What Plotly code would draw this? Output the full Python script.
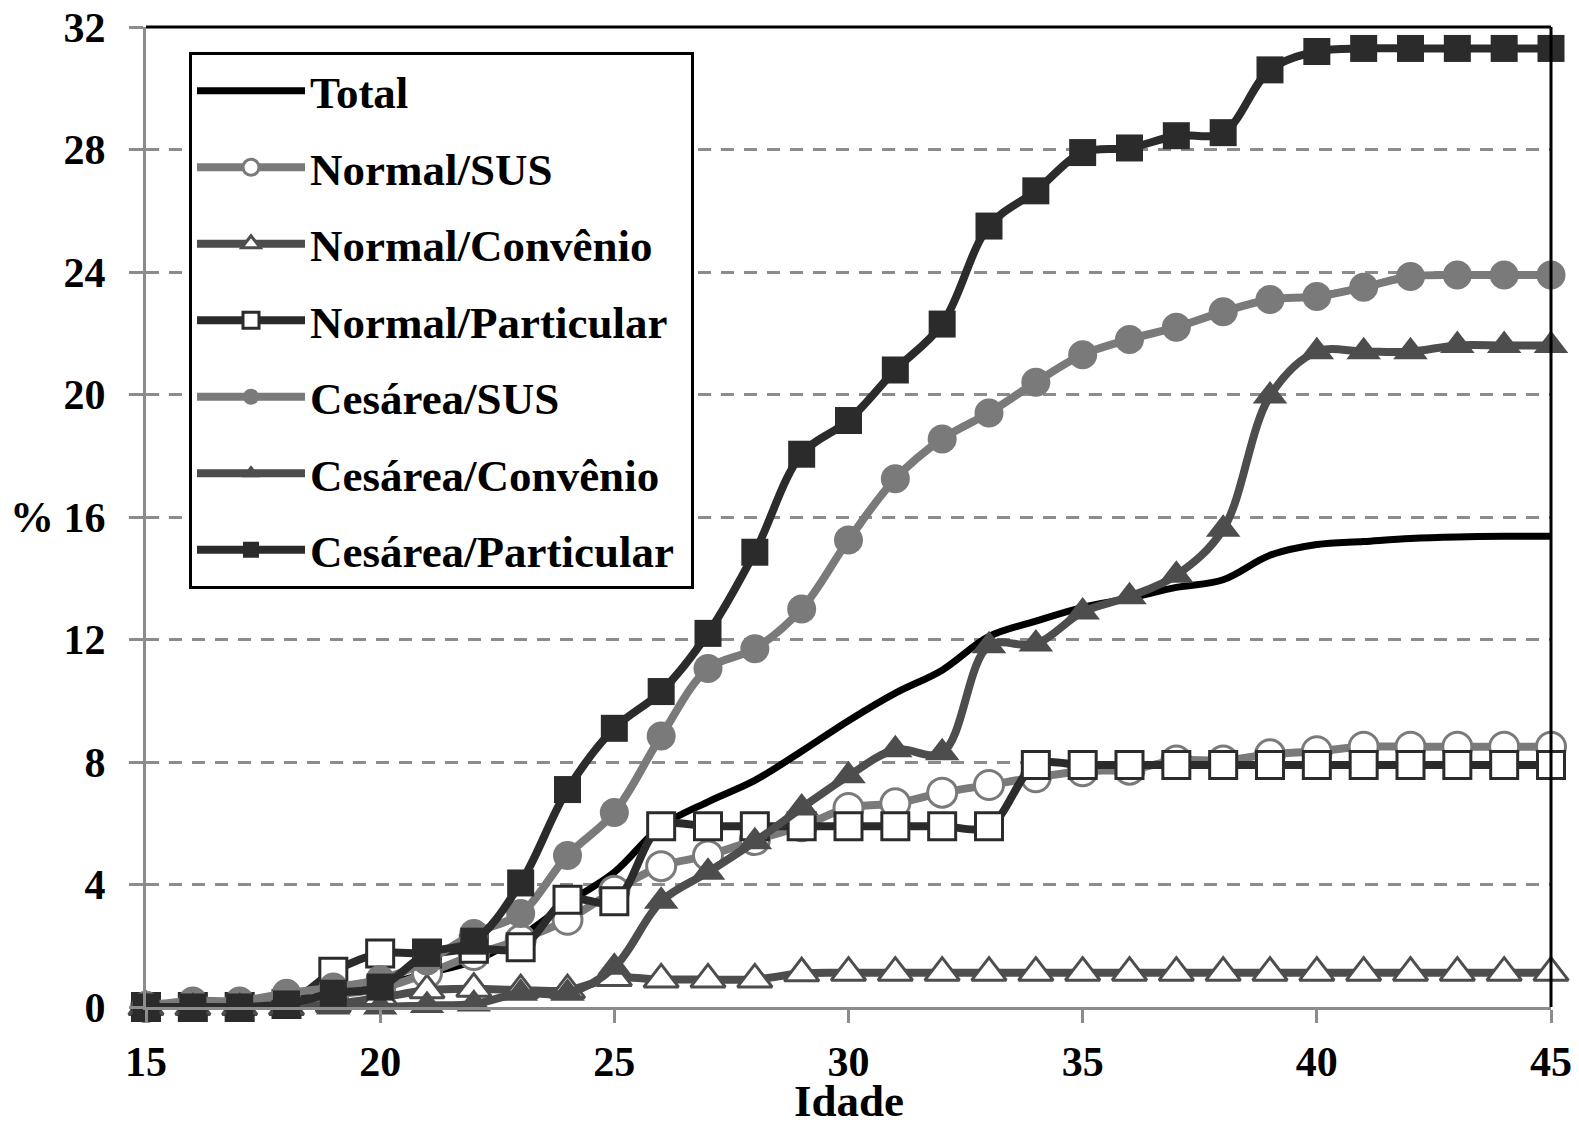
import plotly.graph_objects as go

ages = list(range(15, 46))

total = [0, 0, 0.05, 0.15, 0.4, 0.7, 1.1, 1.5, 2.3, 3.4,
         4.4, 5.9, 6.7, 7.4, 8.35, 9.35, 10.25, 11.0, 12.1, 12.6,
         13.05, 13.35, 13.7, 13.95, 14.75, 15.1, 15.2, 15.3, 15.35, 15.37, 15.37]
normal_sus = [0, 0.1, 0.1, 0.2, 0.4, 0.6, 1.1, 1.7, 2.2, 2.85,
              3.8, 4.6, 4.95, 5.45, 5.9, 6.5, 6.65, 7.0, 7.25, 7.5,
              7.7, 7.75, 8.05, 8.05, 8.25, 8.35, 8.5, 8.5, 8.5, 8.5, 8.5]
normal_conv = [0, 0, 0, 0, 0.1, 0.3, 0.55, 0.6, 0.55, 0.55,
               0.95, 0.9, 0.9, 0.9, 1.1, 1.12, 1.12, 1.12, 1.12, 1.12,
               1.12, 1.12, 1.12, 1.12, 1.12, 1.12, 1.12, 1.12, 1.12, 1.12, 1.12]
normal_part = [0, 0, 0, 0.1, 1.15, 1.75, 1.75, 1.9, 1.95, 3.5,
               3.45, 5.9, 5.9, 5.9, 5.9, 5.9, 5.9, 5.9, 5.9, 7.9,
               7.9, 7.9, 7.9, 7.9, 7.9, 7.9, 7.9, 7.9, 7.9, 7.9, 7.9]
ces_sus = [0.05, 0.2, 0.2, 0.45, 0.65, 0.9, 1.5, 2.4, 3.05, 4.95,
           6.35, 8.85, 11.05, 11.7, 13.0, 15.25, 17.25, 18.55, 19.4, 20.4,
           21.3, 21.8, 22.2, 22.7, 23.1, 23.2, 23.5, 23.85, 23.9, 23.9, 23.9]
ces_conv = [0, 0, 0, 0, 0, 0, 0.05, 0.1, 0.45, 0.45,
            1.3, 3.45, 4.4, 5.4, 6.5, 7.55, 8.4, 8.3, 11.8, 11.85,
            12.9, 13.4, 14.1, 15.6, 19.95, 21.4, 21.4, 21.4, 21.6, 21.6, 21.6]
ces_part = [0, 0, 0, 0.1, 0.45, 0.65, 1.75, 2.15, 4.05, 7.1,
            9.1, 10.3, 12.2, 14.85, 18.05, 19.15, 20.8, 22.3, 25.5, 26.65,
            27.9, 28.05, 28.45, 28.55, 30.6, 31.2, 31.3, 31.3, 31.3, 31.3, 31.3]

x_ticks = [15, 20, 25, 30, 35, 40, 45]
y_ticks = [0, 4, 8, 12, 16, 20, 24, 28, 32]

FONT = "Liberation Serif"
C_DARK = "#2b2b2b"
C_MID = "#4d4d4d"
C_LIGHT = "#7a7a7a"

series = [
    ("Total", total, "#000000", None, False, 7),
    ("Normal/SUS", normal_sus, C_LIGHT, "circle", True, 8),
    ("Normal/Convênio", normal_conv, C_MID, "triangle-up", True, 8),
    ("Normal/Particular", normal_part, C_DARK, "square", True, 8),
    ("Cesárea/SUS", ces_sus, C_LIGHT, "circle", False, 8),
    ("Cesárea/Convênio", ces_conv, C_MID, "triangle-up", False, 8),
    ("Cesárea/Particular", ces_part, C_DARK, "square", False, 8),
]
sizes = {"circle": 29, "triangle-up": 30, "square": 27}

fig = go.Figure()
for i, (name, vals, color, sym, hollow, lw) in enumerate(series):
    if sym is None:
        mode = "lines"
        marker = None
    else:
        mode = "lines+markers"
        marker = dict(
            symbol=sym,
            size=sizes[sym],
            color="white" if hollow else color,
            line=dict(color=color, width=3 if hollow else 0),
        )
    fig.add_trace(go.Scatter(
        x=ages, y=vals, name=name + "\u00a0", mode=mode,
        line=dict(color=color, width=lw, shape="spline", smoothing=1),
        marker=marker, cliponaxis=False, legendgroup=f"g{i}",
    ))

fig.update_layout(
    width=1579, height=1128, autosize=False,
    margin=dict(l=146, r=28, t=27, b=121, pad=0, autoexpand=False),
    paper_bgcolor="white", plot_bgcolor="white",
    font=dict(family=FONT, size=42, color="black", weight="bold"),
    showlegend=True,
    legend=dict(
        x=(189 - 146) / 1405, y=(1007 - 52) / 980,
        xanchor="left", yanchor="top",
        bgcolor="white", bordercolor="black", borderwidth=3,
        font=dict(family=FONT, size=45, color="black", weight="bold"),
        tracegroupgap=15, itemwidth=108,
    ),
    xaxis=dict(
        range=[15, 45], tickvals=x_ticks, ticktext=[str(v) for v in x_ticks],
        showgrid=False, zeroline=False, automargin=False,
        showline=True, linecolor="#8c8c8c", linewidth=3,
        ticks="outside", ticklen=13, tickwidth=3, tickcolor="#8c8c8c",
        ticklabelstandoff=3,
        tickfont=dict(family=FONT, size=42, color="black", weight="bold"),
    ),
    yaxis=dict(
        range=[0, 32], tickvals=y_ticks, ticktext=[str(v) for v in y_ticks],
        showgrid=True, gridcolor="#8c8c8c", gridwidth=3, griddash="13px,10px",
        zeroline=False, automargin=False,
        showline=True, linecolor="#8c8c8c", linewidth=3,
        ticks="outside", ticklen=14, tickwidth=3, tickcolor="#8c8c8c",
        ticklabelstandoff=15,
        tickfont=dict(family=FONT, size=42, color="black", weight="bold"),
    ),
    shapes=[
        dict(type="line", xref="paper", yref="paper", x0=0, x1=1, y0=1, y1=1,
             line=dict(color="black", width=3)),
        dict(type="line", xref="paper", yref="paper", x0=1, x1=1, y0=0, y1=1,
             line=dict(color="black", width=3)),
    ],
    annotations=[
        dict(text="Idade", xref="x", yref="paper", x=30, y=0,
             xanchor="center", yanchor="middle", yshift=-94, showarrow=False,
             font=dict(family=FONT, size=45, color="black", weight="bold")),
        dict(text="%", xref="paper", yref="y", x=-(146 - 56) / 1405, y=16,
             xanchor="right", yanchor="middle", showarrow=False,
             font=dict(family=FONT, size=44, color="black", weight="bold")),
    ],
)

post = (
    "document.documentElement.style.margin='0';"
    "document.documentElement.style.padding='0';"
    "document.body.style.margin='0';document.body.style.padding='0';"
    "document.body.style.overflow='hidden';"
    "var d=document.getElementById('{plot_id}');"
    "d.style.position='absolute';d.style.top='0px';d.style.left='0px';"
)
fig.write_html("out.html", post_script=post, config={"displayModeBar": False})
